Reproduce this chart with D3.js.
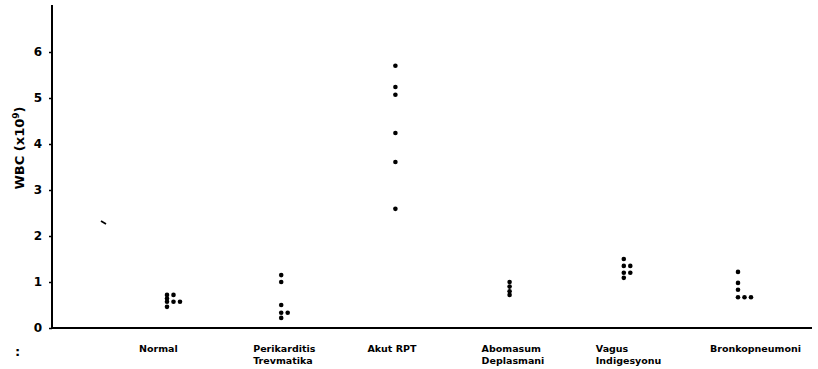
<!DOCTYPE html>
<html>
<head>
<meta charset="utf-8">
<script src="https://cdn.jsdelivr.net/npm/d3@7"></script>
<style>
  body { margin: 0; background: #fff; }
  svg text { font-family: "DejaVu Sans", sans-serif; fill: #000; }
</style>
</head>
<body>
<div id="chart"></div>
<script>
const width = 818;
const height = 369;

// groups along the x axis, label lines under the axis
const groups = ["Normal", "Perikarditis", "Akut RPT", "Abomasum", "Vagus", "Bronkopneumoni"];
const groupLabels = [
    ["Normal"],
    ["Perikarditis", "Trevmatika"],
    ["Akut RPT"],
    ["Abomasum", "Deplasmani"],
    ["Vagus", "Indigesyonu"],
    ["Bronkopneumoni"]
];

// WBC values (x10^9)
const normalWbc = [0.72, 0.72, 0.64, 0.57, 0.57, 0.57, 0.46];
const perikarditisWbc = [1.15, 1.0, 0.5, 0.33, 0.33, 0.22];
const akutRptWbc = [5.7, 5.24, 5.07, 4.24, 3.61, 2.59];
const abomasumWbc = [1.0, 0.9, 0.8, 0.72];
const vagusWbc = [1.5, 1.35, 1.35, 1.2, 1.2, 1.09];
const bronkoWbc = [1.22, 0.98, 0.83, 0.67, 0.67, 0.67];

const yTicks = [0, 1, 2, 3, 4, 5, 6];

const allValues = [normalWbc, perikarditisWbc, akutRptWbc, abomasumWbc, vagusWbc, bronkoWbc];

const svg = d3.select("#chart").append("svg")
    .attr("width", width)
    .attr("height", height);

const x = d3.scalePoint()
    .domain(groups)
    .range([167, 738]);

const y = d3.scaleLinear()
    .domain([0, 6])
    .range([328, 52]);

// flatten into points, same values in a group sit side by side
const points = [];
groups.forEach((g, i) => {
    const seen = {};
    allValues[i].forEach(v => {
        const k = seen[v] || 0;
        seen[v] = k + 1;
        points.push({ group: g, value: v, col: k });
    });
});

// y axis
const yAxis = d3.axisLeft(y)
    .tickValues(yTicks)
    .tickSize(3)
    .tickPadding(7)
    .tickFormat(d3.format("d"));

const yg = svg.append("g")
    .attr("transform", "translate(52,0)")
    .call(yAxis);
yg.select(".domain").remove();
yg.selectAll("line").attr("stroke", "#000").attr("stroke-width", 1.5);
yg.selectAll("text")
    .style("font-size", "12px")
    .style("font-weight", "bold");

// axis lines drawn by hand, thick like the ink
svg.append("line")
    .attr("x1", 52).attr("x2", 52)
    .attr("y1", 5).attr("y2", y(0))
    .attr("stroke", "#000").attr("stroke-width", 2);
svg.append("line")
    .attr("x1", 52).attr("x2", 812)
    .attr("y1", y(0)).attr("y2", y(0))
    .attr("stroke", "#000").attr("stroke-width", 2);

// y label
svg.append("text")
    .attr("transform", "translate(24,148) rotate(-90)")
    .attr("text-anchor", "middle")
    .style("font-size", "13px")
    .style("font-weight", "bold")
    .html('WBC (x10<tspan dy="-5" font-size="9px">9</tspan><tspan dy="5">)</tspan>');

// group labels
groups.forEach((g, i) => {
    const t = svg.append("text")
        .attr("x", x(g) - 28)
        .attr("y", 352)
        .style("font-size", "9.5px")
        .style("font-weight", "bold");
    groupLabels[i].forEach((line, j) => {
        t.append("tspan")
            .attr("x", x(g) - 28)
            .attr("dy", j === 0 ? 0 : 12)
            .text(line);
    });
});

// dots
svg.selectAll("circle.dot")
    .data(points)
    .enter()
    .append("circle")
    .attr("class", "dot")
    .attr("cx", d => x(d.group) + d.col * 6.5)
    .attr("cy", d => y(d.value))
    .attr("r", 2.3)
    .attr("fill", "#000");

// stray marks on the scan
svg.append("line")
    .attr("x1", 101).attr("y1", 221)
    .attr("x2", 106).attr("y2", 224)
    .attr("stroke", "#000").attr("stroke-width", 1.8);
svg.append("text")
    .attr("x", 15).attr("y", 356)
    .style("font-size", "13px")
    .style("font-weight", "bold")
    .text(":");
</script>
</body>
</html>
